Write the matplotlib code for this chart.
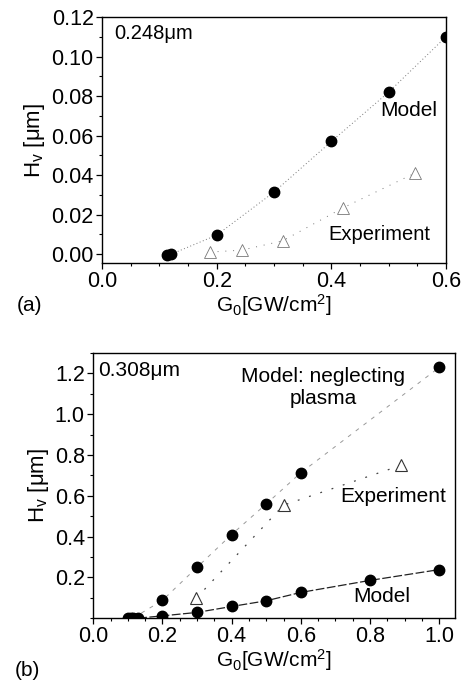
import matplotlib
matplotlib.use('Agg')
from matplotlib import pyplot as plt
from matplotlib.ticker import MultipleLocator, FixedLocator

plt.rcParams['font.family'] = ['Liberation Sans', 'DejaVu Sans']
plt.rcParams['mathtext.fontset'] = 'custom'
plt.rcParams['mathtext.rm'] = 'Liberation Sans'
plt.rcParams['mathtext.it'] = 'Liberation Sans:italic'

# (a) 0.248 um
a_model_x = [0.113, 0.121, 0.2, 0.3, 0.4, 0.5, 0.6]
a_model_y = [-0.0005, 0.0, 0.0096, 0.0314, 0.057, 0.082, 0.110]
a_exp_x = [0.188, 0.244, 0.315, 0.421, 0.546]
a_exp_y = [0.001, 0.002, 0.0067, 0.0235, 0.041]

# (b) 0.308 um
b_neglect_x = [0.10, 0.115, 0.2, 0.3, 0.4, 0.5, 0.6, 1.0]
b_neglect_y = [0.0, 0.0, 0.087, 0.249, 0.41, 0.56, 0.713, 1.23]
b_model_x = [0.108, 0.13, 0.2, 0.3, 0.4, 0.5, 0.6, 0.8, 1.0]
b_model_y = [0.0, 0.0, 0.011, 0.028, 0.057, 0.085, 0.126, 0.185, 0.238]
b_exp_x = [0.298, 0.55, 0.889]
b_exp_y = [0.098, 0.554, 0.749]

fs = 15
tfs = 15.5

fig = plt.figure(figsize=(4.66, 6.83), dpi=100)
ax1 = fig.add_axes([0.219, 0.615, 0.738, 0.360])
ax2 = fig.add_axes([0.200, 0.095, 0.776, 0.388])


def style(ax):
    for s in ax.spines.values():
        s.set_linewidth(1.0)
    ax.tick_params(which='both', direction='out', top=False, right=False, labelsize=tfs, pad=2)
    ax.tick_params(which='major', length=4, width=0.9)
    ax.tick_params(which='minor', length=2.5, width=0.8)


# panel (a)
ax1.plot(a_model_x[1:], a_model_y[1:], color='#777777', lw=0.7, ls=(0, (1, 2.5)))
ax1.plot(a_model_x, a_model_y, 'o', color='black', ms=7.5, ls='none')
ax1.plot(a_exp_x, a_exp_y, color='#777777', lw=0.7, ls=(0, (1, 7)))
ax1.plot(a_exp_x, a_exp_y, '^', mfc='white', mec='#777777', mew=0.6, ms=8, ls='none')
ax1.set_xlim(0, 0.6)
ax1.set_ylim(-0.0045, 0.12)
ax1.xaxis.set_major_locator(MultipleLocator(0.2))
ax1.xaxis.set_minor_locator(MultipleLocator(0.05))
ax1.yaxis.set_major_locator(MultipleLocator(0.02))
ax1.yaxis.set_minor_locator(MultipleLocator(0.01))
ax1.yaxis.set_major_formatter(plt.FormatStrFormatter('%.2f'))
ax1.xaxis.set_major_formatter(plt.FormatStrFormatter('%.1f'))
style(ax1)
ax1.set_xlabel(r'G$_0$[GW/cm$^2$]', fontsize=fs, labelpad=0)
ax1.set_ylabel(r'H$_\mathrm{v}$ [μm]', fontsize=fs + 1, labelpad=3)
ax1.text(0.035, 0.935, '0.248μm', transform=ax1.transAxes, fontsize=fs - 0.5, va='center', ha='left')
ax1.text(0.485, 0.0726, 'Model', fontsize=fs, va='center', ha='left')
ax1.text(0.394, 0.0101, 'Experiment', fontsize=fs - 0.5, va='center', ha='left')
fig.text(0.036, 0.553, '(a)', fontsize=fs, va='center', ha='left')

# panel (b)
ax2.plot(b_neglect_x[1:], b_neglect_y[1:], color='#999999', lw=0.7, ls=(0, (4, 6)))
ax2.plot(b_neglect_x, b_neglect_y, 'o', color='black', ms=7.5, ls='none')
ax2.plot(b_model_x[1:], b_model_y[1:], color='#222222', lw=0.9, ls=(0, (7, 2)))
ax2.plot(b_model_x, b_model_y, 'o', color='black', ms=7.5, ls='none')
ax2.plot(b_exp_x, b_exp_y, color='#444444', lw=0.9, ls=(0, (1.5, 8)))
ax2.plot(b_exp_x, b_exp_y, '^', mfc='white', mec='#333333', mew=0.8, ms=8.5, ls='none')
ax2.set_xlim(0, 1.045)
ax2.set_ylim(0, 1.30)
ax2.xaxis.set_major_locator(MultipleLocator(0.2))
ax2.xaxis.set_minor_locator(MultipleLocator(0.05))
ax2.yaxis.set_major_locator(FixedLocator([0.2, 0.4, 0.6, 0.8, 1.0, 1.2]))
ax2.yaxis.set_minor_locator(MultipleLocator(0.1))
ax2.yaxis.set_major_formatter(plt.FormatStrFormatter('%.1f'))
ax2.xaxis.set_major_formatter(plt.FormatStrFormatter('%.1f'))
style(ax2)
ax2.set_xlabel(r'G$_0$[GW/cm$^2$]', fontsize=fs, labelpad=0)
ax2.set_ylabel(r'H$_\mathrm{v}$ [μm]', fontsize=fs + 1, labelpad=3)
ax2.text(0.013, 0.933, '0.308μm', transform=ax2.transAxes, fontsize=fs, va='center', ha='left')
ax2.text(0.665, 1.13, 'Model: neglecting\nplasma', fontsize=fs, va='center', ha='center',
         multialignment='center', linespacing=1.2)
ax2.text(0.715, 0.597, 'Experiment', fontsize=fs, va='center', ha='left')
ax2.text(0.752, 0.105, 'Model', fontsize=fs, va='center', ha='left')
fig.text(0.032, 0.019, '(b)', fontsize=fs, va='center', ha='left')

fig.savefig('out.png', dpi=100)
